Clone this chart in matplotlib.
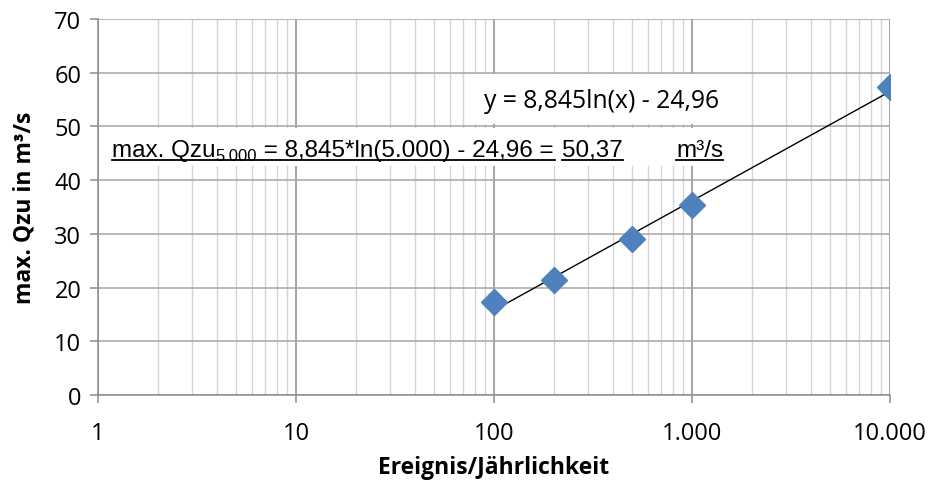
import matplotlib
matplotlib.use("Agg")
import matplotlib.pyplot as plt
import numpy as np
from matplotlib.ticker import FixedLocator, LogLocator, NullFormatter
from matplotlib.patches import Rectangle
from matplotlib.lines import Line2D

# Data
years = [100, 200, 500, 1000, 10000]
qzu = [17.3, 21.4, 29.1, 35.3, 57.3]
coef_a = 8.845
coef_b = -24.96
x_ticks = [1, 10, 100, 1000, 10000]
x_ticklabels = ["1", "10", "100", "1.000", "10.000"]
y_ticks = [0, 10, 20, 30, 40, 50, 60, 70]

FONT = "Open Sans"
W, H = 930, 489
fig = plt.figure(figsize=(W / 100, H / 100), dpi=100)
ax = fig.add_axes([98 / W, 1 - 396 / H, (890 - 98) / W, (396 - 20) / H])

ax.set_xscale("log")
ax.set_xlim(1, 10000)
ax.set_ylim(0, 70)

# grid
ax.xaxis.set_major_locator(FixedLocator(x_ticks))
ax.xaxis.set_minor_locator(LogLocator(base=10, subs=np.arange(2, 10)))
ax.xaxis.set_minor_formatter(NullFormatter())
ax.set_xticklabels(x_ticklabels)
ax.set_yticks(y_ticks)
ax.grid(True, which="major", axis="x", color="#8c8c8c", lw=1.1, zorder=0)
ax.grid(True, which="minor", axis="x", color="#d4d4d4", lw=1.0, zorder=0)
ax.grid(True, which="major", axis="y", color="#a6a6a6", lw=1.1, zorder=0)
ax.set_axisbelow(True)

for s in ["top", "right"]:
    ax.spines[s].set_visible(False)
for s in ["left", "bottom"]:
    ax.spines[s].set_color("#8c8c8c")
    ax.spines[s].set_linewidth(1.1)

ax.tick_params(axis="both", which="major", direction="out", length=6,
               width=1.1, color="#8c8c8c", labelsize=17, labelcolor="black")
ax.tick_params(axis="x", which="minor", length=0)
ax.tick_params(axis="x", pad=13)
ax.tick_params(axis="y", pad=6)
for lab in ax.get_xticklabels() + ax.get_yticklabels():
    lab.set_fontfamily(FONT)

ax.set_xlabel("Ereignis/Jährlichkeit", fontsize=16.5, fontweight="bold",
              family=FONT, labelpad=7)
ax.set_ylabel("max. Qzu in m³/s", fontsize=16.5, fontweight="bold",
              family=FONT, labelpad=13)

# white label boxes (in figure pixels)
def fig_rect(x0, y0, x1, y1):
    r = Rectangle((x0 / W, 1 - y1 / H), (x1 - x0) / W, (y1 - y0) / H,
                  transform=fig.transFigure, facecolor="white",
                  edgecolor="none", zorder=2)
    ax.add_artist(r)
    r.set_clip_on(False)

fig_rect(468, 75, 735, 125)
fig_rect(100, 129, 735, 167)

# trendline
xt = np.logspace(np.log10(years[0]), np.log10(years[-1]), 200)
ax.plot(xt, coef_a * np.log(xt) + coef_b, color="black", lw=1.0, zorder=3)

# points
ax.plot(years, qzu, linestyle="none", marker="D", markersize=13,
        color="#4f81bd", markeredgecolor="#4f81bd", zorder=4)

# equation label
fig.text(484 / W, 1 - 108 / H, "y = 8,845ln(x) - 24,96", family=FONT,
         fontsize=17.8, va="baseline", ha="left", zorder=5)

# underlined annotation
fig.canvas.draw()
renderer = fig.canvas.get_renderer()
AFONT = "Liberation Sans"
base_y = 1 - 157 / H
under_y = 1 - 160.5 / H


def put(xpix, s, size=17.5, dy=0.0):
    t = fig.text(xpix / W, base_y + dy / H, s, family=AFONT, fontsize=size,
                 va="baseline", ha="left", zorder=5)
    bb = t.get_window_extent(renderer)
    return bb.x1


def underline(x0, x1):
    fig.add_artist(Line2D([x0 / W, x1 / W], [under_y, under_y],
                          transform=fig.transFigure, color="black", lw=1.3))

x0 = 112
x = put(x0, "max. Qzu")
x = put(x, "5.000", size=12, dy=-4)
x = put(x, " = 8,845*ln(5.000) - 24,96 = ")
underline(x0, x - 5)
x2 = x + 2
x = put(x2, "50,37")
underline(x2, x)
x3 = 676
x = put(x3, "m³/s")
underline(x3, x)

fig.savefig("out.png", dpi=100)
